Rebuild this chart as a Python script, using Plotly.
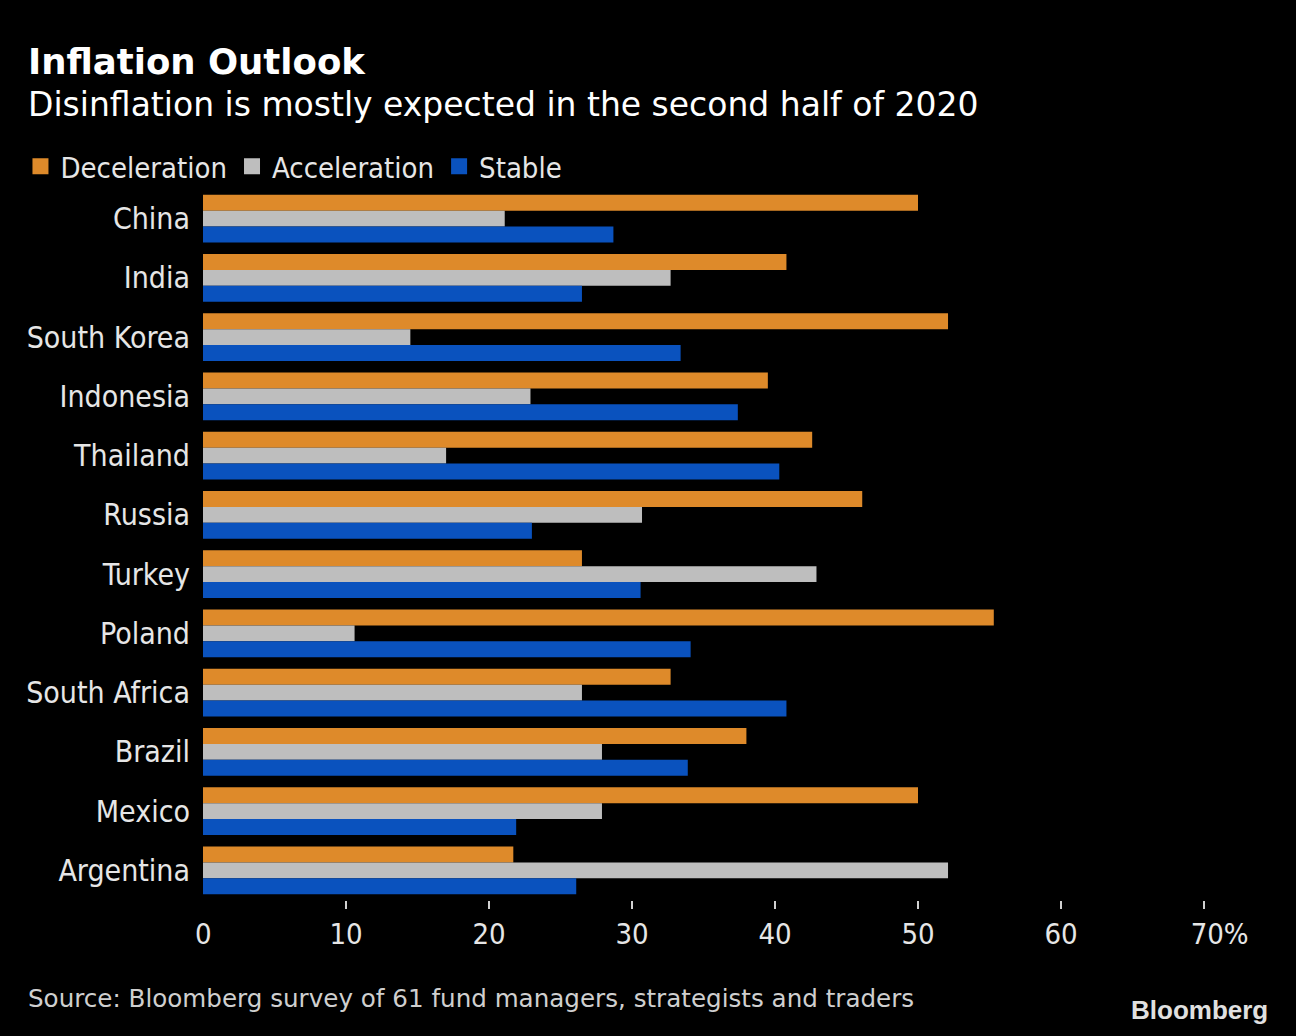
import plotly.graph_objects as go

countries = ["China", "India", "South Korea", "Indonesia", "Thailand", "Russia",
             "Turkey", "Poland", "South Africa", "Brazil", "Mexico", "Argentina"]
deceleration = [50.0, 40.8, 52.1, 39.5, 42.6, 46.1, 26.5, 55.3, 32.7, 38.0, 50.0, 21.7]
acceleration = [21.1, 32.7, 14.5, 22.9, 17.0, 30.7, 42.9, 10.6, 26.5, 27.9, 27.9, 52.1]
stable = [28.7, 26.5, 33.4, 37.4, 40.3, 23.0, 30.6, 34.1, 40.8, 33.9, 21.9, 26.1]

series_names = ["Deceleration", "Acceleration", "Stable"]
series_colors = ["#DE8A2A", "#BEBEBE", "#0A52BE"]
tick_vals = [10, 20, 30, 40, 50, 60, 70]
tick_text = ["10", "20", "30", "40", "50", "60", "\u2003\u200970%"]

COND = "DejaVu Sans Condensed, DejaVu Sans, sans-serif"
REG = "DejaVu Sans, sans-serif"

W, H = 1296, 1036
L, R, T, B = 203, 92, 189, 136
PW, PH = W - L - R, H - T - B


def px_x(px):
    return (px - L) / PW


def px_y(py):
    return 1 - (py - T) / PH


fig = go.Figure()
for name, vals, col in zip(series_names, [deceleration, acceleration, stable], series_colors):
    fig.add_trace(go.Bar(
        y=countries, x=vals, name=name, orientation="h",
        marker=dict(color=col, line=dict(width=0)),
        showlegend=False,
    ))
    fig.add_trace(go.Scatter(
        x=[None], y=[None], mode="markers", name=name,
        marker=dict(symbol="square", size=20, color=col),
        showlegend=True,
    ))

fig.update_layout(
    width=W, height=H,
    paper_bgcolor="#000000", plot_bgcolor="#000000",
    margin=dict(l=L, r=R, t=T, b=B, autoexpand=False),
    barmode="group", bargap=0.19, bargroupgap=0,
    font=dict(family=COND, color="#E6E6E6", size=29),
    showlegend=True,
    legend=dict(
        orientation="h", xref="container", yref="container",
        x=25 / W - 0.0035, y=1 - 141 / H, xanchor="left", yanchor="top",
        font=dict(size=29, color="#E6E6E6", family=COND), bgcolor="rgba(0,0,0,0)",
        itemsizing="trace", traceorder="normal",
    ),
    xaxis=dict(
        range=[0, 70], tickvals=tick_vals, ticktext=tick_text,
        showgrid=False, zeroline=False, showline=False,
        ticks="outside", ticklen=8, tickwidth=1.5, tickcolor="#D0D0D0",
        tickfont=dict(size=29, color="#E6E6E6", family=COND),
        ticklabelstandoff=0,
        fixedrange=True,
    ),
    yaxis=dict(
        categoryorder="array", categoryarray=countries, autorange="reversed",
        showgrid=False, zeroline=False, showline=False, ticks="",
        tickfont=dict(size=30, color="#E6E6E6", family=COND),
        ticklabelstandoff=12,
        fixedrange=True,
    ),
    annotations=[
        dict(text="0", xref="x", yref="paper", x=0, y=px_y(934),
             xanchor="center", yanchor="middle", showarrow=False,
             font=dict(size=29, color="#E6E6E6", family=COND)),
        dict(text="<b>Inflation Outlook</b>", xref="paper", yref="paper",
             x=px_x(26), y=px_y(62), xanchor="left", yanchor="middle",
             showarrow=False, font=dict(size=35.5, color="#FFFFFF", family=REG)),
        dict(text="Disinflation is mostly expected in the second half of 2020",
             xref="paper", yref="paper",
             x=px_x(26), y=px_y(104), xanchor="left", yanchor="middle",
             showarrow=False, font=dict(size=33, color="#FFFFFF", family=REG)),
        dict(text="Source: Bloomberg survey of 61 fund managers, strategists and traders",
             xref="paper", yref="paper",
             x=px_x(26), y=px_y(998), xanchor="left", yanchor="middle",
             showarrow=False, font=dict(size=24.6, color="#CFCFCF", family=REG)),
        dict(text="<b>Bloomberg</b>", xref="paper", yref="paper",
             x=px_x(1270), y=px_y(1010), xanchor="right", yanchor="middle",
             showarrow=False, font=dict(size=26, color="#E0E0E0", family="Liberation Sans, Arial, sans-serif")),
    ],
)

fig.write_html(
    "out.html",
    config={"displayModeBar": False},
    post_script="document.body.style.margin='0';document.body.style.background='#000';",
)
